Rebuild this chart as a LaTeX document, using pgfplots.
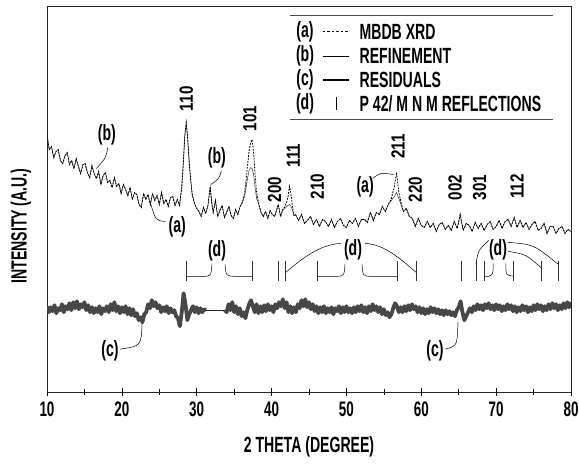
\documentclass[border=0pt]{standalone}
\usepackage{fontspec}
\setmainfont{Liberation Sans}[FakeStretch=0.64]
\newfontfamily\pkfont{Liberation Sans}[FakeStretch=0.8]
\usepackage{pgfplots}
\pgfplotsset{compat=1.18}
\usepackage{pgfplotstable}
\newcommand\fTick{\bfseries\fontsize{21bp}{21bp}\selectfont}
\newcommand\fLab{\bfseries\fontsize{22bp}{22bp}\selectfont}
\newcommand\fLeg{\bfseries\fontsize{22bp}{22bp}\selectfont}
\newcommand\fPk{\pkfont\bfseries\fontsize{19bp}{19bp}\selectfont}
\newcommand\fAn{\bfseries\fontsize{22bp}{22bp}\selectfont}

\pgfplotstableread{
x a b
10.0 258 258
10.3 243 243
10.6 246 246
10.9 235 235
11.2 241 241
11.5 243 243
11.8 232 232
12.1 229 229
12.4 237 237
12.7 240 240
13.0 228 228
13.3 232 232
13.6 224 224
13.9 234 234
14.2 226 226
14.5 219 219
14.8 228 228
15.1 229 229
15.4 220 220
15.7 215 215
16.0 227 227
16.3 219 219
16.6 214 214
16.9 221 221
17.2 208 208
17.5 217 217
17.8 220 220
18.1 210 210
18.4 212 212
18.7 205 205
19.0 215 215
19.3 206 206
19.6 209 209
19.9 199 199
20.2 208 208
20.5 203 203
20.8 197 197
21.1 205 205
21.4 193 193
21.7 200 200
22.0 198 198
22.3 188 188
22.6 185 185
22.9 199 199
23.2 193 193
23.5 198 198
23.8 188 188
24.1 199 199
24.4 192 192
24.7 197 197
25.0 188 188
25.3 200 200
25.6 189 189
25.9 193 193
26.2 186 186
26.5 195 195
26.8 196 196
27.1 187 187
27.4 193 193
27.7 187 187
28.0 205 205
28.2 228 228
28.4 256 256
28.6 270 270
28.8 254 254
29.0 230 230
29.2 212 212
29.4 198 198
29.7 189 189
30.0 184 184
30.3 181 181
30.6 176 176
30.9 185 185
31.2 179 179
31.5 187 187
31.8 206 206
32.0 190 190
32.2 180 180
32.5 192 192
32.8 176 176
33.1 182 182
33.4 187 187
33.7 175 175
34.0 180 180
34.3 186 186
34.6 177 177
34.9 174 174
35.2 183 183
35.5 178 178
35.8 186 186
36.1 190 190
36.4 200 196
36.6 212 205
36.8 228 215
37.0 242 222
37.2 250 225
37.4 253 224
37.6 240 218
37.8 218 205
38.0 200 194
38.3 188 188
38.6 180 180
38.9 176 176
39.2 181 181
39.5 174 174
39.8 182 182
40.1 178 178
40.4 176 176
40.7 183 183
40.9 188 188
41.2 176 176
41.5 183 183
41.8 186 184
42.0 190 186
42.2 196 187
42.4 206 188
42.6 198 186
42.8 185 182
43.0 177 177
43.2 178 178
43.6 172 172
44.0 178 178
44.4 169 169
44.8 172 172
45.2 176 176
45.6 168 168
46.0 173 173
46.4 166 166
46.8 173 173
47.2 171 171
47.6 166 166
48.0 173 173
48.4 165 165
48.8 171 171
49.2 174 174
49.6 167 167
50.0 165 165
50.4 172 172
50.8 169 169
51.2 174 174
51.6 166 166
52.0 173 173
52.4 173 173
52.8 170 170
53.2 180 180
53.6 172 172
54.0 180 180
54.4 178 178
54.8 186 186
55.2 181 181
55.6 188 188
56.0 194 192
56.4 206 196
56.7 220 200
57.0 200 194
57.3 190 188
57.6 181 181
58.0 184 184
58.4 176 176
58.8 174 174
59.2 166 166
59.6 174 174
60.0 167 167
60.4 165 165
60.8 171 171
61.2 165 165
61.6 169 169
62.0 161 161
62.4 168 168
62.8 170 170
63.2 163 163
63.6 167 167
64.0 162 162
64.4 171 171
64.8 164 164
65.2 178 178
65.6 162 162
66.0 169 169
66.4 167 167
66.8 161 161
67.2 170 170
67.6 164 164
68.0 169 169
68.4 162 162
68.8 168 168
69.2 171 171
69.6 163 163
70.0 166 166
70.4 172 172
70.8 164 164
71.2 171 171
71.6 173 173
72.0 166 166
72.4 175 175
72.8 165 165
73.2 172 172
73.6 165 165
74.0 170 170
74.4 163 163
74.8 168 168
75.2 171 171
75.6 162 162
76.0 164 164
76.4 169 169
76.8 159 159
77.2 166 166
77.6 166 166
78.0 159 159
78.4 164 164
78.8 166 166
79.2 159 159
79.6 163 163
80.0 161 161
}\maindata

\pgfplotstableread{
x r
10.00 86
10.25 80
10.50 85
10.75 81
11.00 87
11.25 79
11.50 84
11.75 82
12.00 88
12.25 80
12.50 86
12.75 83
13.00 89
13.25 82
13.50 90
13.75 84
14.00 91
14.25 83
14.50 88
14.75 85
15.00 90
15.25 82
15.50 87
15.75 80
16.00 85
16.25 79
16.50 84
16.75 80
17.00 86
17.25 78
17.50 84
17.75 81
18.00 86
18.25 80
18.50 88
18.75 82
19.00 90
19.25 81
19.50 86
19.75 79
20.00 85
20.25 80
20.50 86
20.75 78
21.00 84
21.25 77
21.50 83
21.75 76
22.00 79
22.25 72
22.50 75
22.75 70
23.00 78
23.25 80
23.50 88
23.75 84
24.00 92
24.25 86
24.50 90
24.75 84
25.00 87
25.25 80
25.50 85
25.75 81
26.00 86
26.25 79
26.50 84
26.75 80
27.00 82
27.25 76
27.50 74
27.75 66
28.00 80
28.25 99
28.50 88
28.75 72
29.00 78
29.25 82
29.50 86
29.75 80
30.00 85
30.25 79
30.50 84
30.75 80
31.00 83
31.25 82
31.50 82
31.75 82
32.00 82
32.25 82
32.50 82
32.75 82
33.00 82
33.25 82
33.50 82
33.75 82
34.00 80
34.25 88
34.50 82
34.75 90
35.00 80
35.25 86
35.50 78
35.75 84
36.00 76
36.25 80
36.50 74
36.75 82
37.00 88
37.25 92
37.50 86
37.75 80
38.00 88
38.25 79
38.50 86
38.75 80
39.00 87
39.25 81
39.50 88
39.75 82
40.00 86
40.25 80
40.50 88
40.75 84
41.00 90
41.25 86
41.50 93
41.75 84
42.00 90
42.25 80
42.50 86
42.75 79
43.00 85
43.25 80
43.50 88
43.75 84
44.00 92
44.25 86
44.50 93
44.75 85
45.00 90
45.25 83
45.50 88
45.75 81
46.00 86
46.25 79
46.50 85
46.75 80
47.00 86
47.25 79
47.50 84
47.75 80
48.00 85
48.25 78
48.50 84
48.75 81
49.00 86
49.25 79
49.50 85
49.75 80
50.00 86
50.25 80
50.50 84
50.75 79
51.00 85
51.25 80
51.50 86
51.75 81
52.00 87
52.25 80
52.50 85
52.75 79
53.00 86
53.25 81
53.50 88
53.75 82
54.00 86
54.25 80
54.50 85
54.75 78
55.00 83
55.25 77
55.50 80
55.75 75
56.00 78
56.25 84
56.50 89
56.75 86
57.00 80
57.25 85
57.50 80
57.75 86
58.00 81
58.25 87
58.50 82
58.75 88
59.00 83
59.25 86
59.50 80
59.75 85
60.00 79
60.25 84
60.50 78
60.75 83
61.00 79
61.25 85
61.50 80
61.75 84
62.00 79
62.25 83
62.50 78
62.75 82
63.00 77
63.25 82
63.50 78
63.75 81
64.00 77
64.25 80
64.50 76
64.75 82
65.00 85
65.25 91
65.50 80
65.75 72
66.00 76
66.25 80
66.50 84
66.75 80
67.00 86
67.25 82
67.50 88
67.75 83
68.00 87
68.25 82
68.50 88
68.75 84
69.00 89
69.25 83
69.50 87
69.75 82
70.00 88
70.25 83
70.50 87
70.75 81
71.00 86
71.25 82
71.50 88
71.75 83
72.00 87
72.25 81
72.50 86
72.75 80
73.00 85
73.25 81
73.50 87
73.75 82
74.00 86
74.25 80
74.50 85
74.75 81
75.00 87
75.25 82
75.50 88
75.75 83
76.00 87
76.25 81
76.50 86
76.75 82
77.00 88
77.25 83
77.50 89
77.75 84
78.00 88
78.25 82
78.50 87
78.75 83
79.00 89
79.25 84
79.50 90
79.75 85
80.00 90
}\resdata

\pgfplotstableread{
x y
28.6 121
37.4 121
40.9 121
41.9 121
46.1 121
56.8 121
59.3 121
65.3 121
67.3 121
68.4 121
72.3 121
76.1 121
78.3 121
}\refldata

\begin{document}
\begin{tikzpicture}
\begin{axis}[
  scale only axis, width=524bp, height=386bp,
  xmin=10, xmax=80, ymin=0, ymax=387,
  axis line style={line width=0.7pt, black!85},
  xtick={10,20,30,40,50,60,70,80},
  minor xtick={15,25,35,45,55,65,75},
  ytick=\empty,
  xtick pos=left,
  tick align=center, major tick length=8bp, minor tick length=5bp,
  tick style={line width=0.7pt, black},
  /pgf/number format/assume math mode=true,
  xticklabel style={font=\fTick, yshift=-2bp},
]
\coordinate (bl) at (rel axis cs:0,0);
\addplot[black!85, line width=0.45pt] table[x=x,y=b]{\maindata};
\addplot[black, line width=0.8pt, dash pattern=on 1.8pt off 1.2pt] table[x=x,y=a]{\maindata};
\addplot[black!72, line width=3.8pt, line join=round, restrict x to domain=10:31.25] table[x=x,y=r]{\resdata};
\addplot[black!85, line width=0.7pt, restrict x to domain=31.2:33.8] table[x=x,y=r]{\resdata};
\addplot[black!72, line width=3.8pt, line join=round, restrict x to domain=33.75:80] table[x=x,y=r]{\resdata};
\addplot[only marks, mark=|, mark size=10bp, mark options={line width=0.7pt, black!80}] table[x=x,y=y]{\refldata};

% peak labels
\node[rotate=90, font=\fPk] at (axis cs:28.6,294) {110};
\node[rotate=90, font=\fPk] at (axis cs:37.1,274) {101};
\node[rotate=90, font=\fPk] at (axis cs:40.4,203) {200};
\node[rotate=90, font=\fPk] at (axis cs:42.9,237) {111};
\node[rotate=90, font=\fPk] at (axis cs:46.1,206) {210};
\node[rotate=90, font=\fPk] at (axis cs:56.9,246) {211};
\node[rotate=90, font=\fPk] at (axis cs:59.2,203) {220};
\node[rotate=90, font=\fPk] at (axis cs:64.5,205) {002};
\node[rotate=90, font=\fPk] at (axis cs:67.8,205) {301};
\node[rotate=90, font=\fPk] at (axis cs:72.8,206) {112};

% curve annotations
\node[font=\fAn] at (axis cs:18.0,258) {(b)};
\draw[line width=0.5pt] (axis cs:18.1,245) .. controls (axis cs:17.9,235) .. (axis cs:16.6,224);
\node[font=\fAn] at (axis cs:32.7,235) {(b)};
\draw[line width=0.5pt] (axis cs:33.3,222) .. controls (axis cs:33.0,214) .. (axis cs:31.9,208);
\node[font=\fAn] at (axis cs:27.4,166) {(a)};
\draw[line width=0.5pt] (axis cs:23.8,190) .. controls (axis cs:24.5,172) .. (axis cs:25.8,171);
\node[font=\fAn] at (axis cs:52.5,206) {(a)};
\draw[line width=0.5pt] (axis cs:53.5,214) .. controls (axis cs:54.5,220) .. (axis cs:56.3,218);

% reflection group annotations
\node[font=\fAn] at (axis cs:32.71,142) {(d)};
\draw[line width=0.5pt] (axis cs:28.6,116) -- (axis cs:30.84,116) .. controls (axis cs:31.9,116) .. (axis cs:32.04,128);
\draw[line width=0.5pt] (axis cs:33.78,128) .. controls (axis cs:33.9,116) .. (axis cs:35.38,116) -- (axis cs:37.4,116);
\node[font=\fAn] at (axis cs:50.88,143) {(d)};
\draw[line width=0.5pt] (axis cs:46.1,116) -- (axis cs:48.47,116) .. controls (axis cs:49.7,116) .. (axis cs:49.81,128);
\draw[line width=0.5pt] (axis cs:52.08,128) .. controls (axis cs:52.2,116) .. (axis cs:53.42,116) -- (axis cs:56.8,116);
\draw[line width=0.5pt] (axis cs:41.9,120) .. controls (axis cs:45,140) and (axis cs:47,148) .. (axis cs:49.3,149);
\draw[line width=0.5pt] (axis cs:52.5,149) .. controls (axis cs:55,148) and (axis cs:57,135) .. (axis cs:59.3,120);
\node[font=\fAn] at (axis cs:70.25,143) {(d)};
\draw[line width=0.5pt] (axis cs:67.3,128) .. controls (axis cs:67.6,142) .. (axis cs:69.0,152);
\draw[line width=0.5pt] (axis cs:68.4,116) -- (axis cs:69.0,116) .. controls (axis cs:69.6,118) .. (axis cs:69.6,129);
\draw[line width=0.5pt] (axis cs:71.3,129) .. controls (axis cs:71.3,117) .. (axis cs:72.3,116);
\draw[line width=0.5pt] (axis cs:71.6,141) .. controls (axis cs:74,138) .. (axis cs:76.1,124);
\draw[line width=0.5pt] (axis cs:71.6,150) .. controls (axis cs:75,148) .. (axis cs:78.3,128);

% residual annotations
\node[font=\fAn] at (axis cs:18.42,41) {(c)};
\draw[line width=0.5pt] (axis cs:19.75,43) .. controls (axis cs:22.6,46) .. (axis cs:22.7,70);
\node[font=\fAn] at (axis cs:61.83,41) {(c)};
\draw[line width=0.5pt] (axis cs:63.17,43) .. controls (axis cs:64.8,46) .. (axis cs:64.9,70);

% legend
\draw[black!70, line width=0.5pt] (axis cs:42.46,378) -- (axis cs:77.6,378);
\draw[black!70, line width=0.5pt] (axis cs:42.46,273) -- (axis cs:77.6,273);
\node[font=\fLeg] at (axis cs:44.47,361) {(a)};
\node[font=\fLeg] at (axis cs:44.47,337) {(b)};
\node[font=\fLeg] at (axis cs:44.47,313) {(c)};
\node[font=\fLeg] at (axis cs:44.47,289) {(d)};
\draw[black, line width=0.9pt, dash pattern=on 2.5pt off 2pt] (axis cs:46.87,361) -- (axis cs:50.34,361);
\draw[black, line width=0.45pt] (axis cs:46.87,337) -- (axis cs:50.34,337);
\draw[black, line width=1.6pt] (axis cs:46.87,313) -- (axis cs:50.34,313);
\draw[black, line width=0.7pt] (axis cs:48.6,283) -- (axis cs:48.6,296);
\node[font=\fLeg, anchor=west] at (axis cs:51.3,361) {MBDB XRD};
\node[font=\fLeg, anchor=west] at (axis cs:51.3,337) {REFINEMENT};
\node[font=\fLeg, anchor=west] at (axis cs:51.3,313) {RESIDUALS};
\node[font=\fLeg, anchor=west] at (axis cs:51.3,289) {P 42/ M N M REFLECTIONS};
\end{axis}
\node[font=\fLab] at ([shift={(262bp,-55bp)}]bl) {2 THETA (DEGREE)};
\node[font=\fLab, rotate=90] at ([shift={(-26bp,166bp)}]bl) {INTENSITY (A.U.)};
\pgfresetboundingbox
\path ([shift={(-47bp,-72bp)}]bl) rectangle ([shift={(532bp,392bp)}]bl);
\end{tikzpicture}
\end{document}
